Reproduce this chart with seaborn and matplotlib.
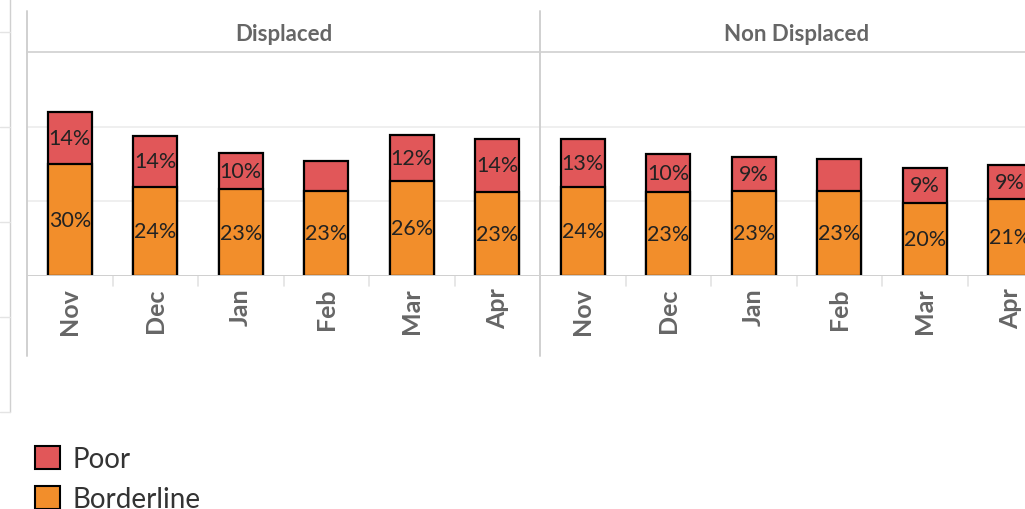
import matplotlib
matplotlib.use("Agg")
import matplotlib.pyplot as plt
from matplotlib.lines import Line2D
from matplotlib.patches import Patch
import numpy as np
import pandas as pd
import seaborn as sns

MONTHS = ["Nov", "Dec", "Jan", "Feb", "Mar", "Apr"]
GROUPS = ["Displaced", "Non Displaced"]
BORDERLINE_DISPLACED = [30.1, 23.9, 23.3, 22.8, 25.5, 22.6]
POOR_DISPLACED = [13.7, 13.6, 9.7, 8.0, 12.3, 14.0]
BORDERLINE_NON_DISPLACED = [23.9, 22.6, 22.8, 22.8, 19.6, 20.7]
POOR_NON_DISPLACED = [12.9, 10.2, 9.1, 8.6, 9.4, 9.1]

POOR_COLOR = "#E15759"
BORDERLINE_COLOR = "#F28E2B"
TEXT_GRAY = "#666666"
LINE_GRAY = "#d0d0d0"

df = pd.DataFrame({
    "group": np.repeat(GROUPS, len(MONTHS)),
    "month": MONTHS * len(GROUPS),
    "borderline": BORDERLINE_DISPLACED + BORDERLINE_NON_DISPLACED,
    "poor": POOR_DISPLACED + POOR_NON_DISPLACED,
})
df["total"] = df["borderline"] + df["poor"]

sns.set_theme(style="white")
plt.rcParams["font.family"] = ["Lato", "DejaVu Sans"]

W, H = 1025, 510
fig = plt.figure(figsize=(W / 100, H / 100), dpi=100)
panel_w = 513
top, base = 53, 277

for i, group in enumerate(GROUPS):
    left = 27 + i * panel_w
    ax = fig.add_axes([left / W, (H - base) / H, panel_w / W, (base - top) / H])
    sub = df[df["group"] == group]
    bar_kw = dict(order=MONTHS, saturation=1, width=0.515, edgecolor="black",
                  linewidth=1.6, errorbar=None, ax=ax)
    sns.barplot(data=sub, x="month", y="total", color=POOR_COLOR, **bar_kw)
    sns.barplot(data=sub, x="month", y="borderline", color=BORDERLINE_COLOR, **bar_kw)

    ax.set_ylim(0, 60)
    ax.set_xlim(-0.5, len(MONTHS) - 0.5)
    ax.set_axisbelow(True)
    ax.set_yticks([0, 20, 40])
    ax.set_yticklabels([])
    ax.tick_params(axis="y", length=0)
    ax.grid(True, axis="y", color="#ececec", linewidth=1.2)
    ax.axhline(0, color=LINE_GRAY, linewidth=1.4, zorder=3)
    ax.set_xlabel("")
    ax.set_ylabel("")
    for name, spine in ax.spines.items():
        spine.set_visible(name == "top")
    ax.spines["top"].set_color(LINE_GRAY)
    ax.spines["top"].set_linewidth(1.2)

    ax.set_xticks(range(len(MONTHS)))
    ax.set_xticklabels(MONTHS, rotation=90, fontsize=18, fontweight="bold", color=TEXT_GRAY)
    ax.tick_params(axis="x", length=0, pad=8)

    for x in np.arange(len(MONTHS) - 1) + 0.5:
        ax.plot([x, x], [0, -10 / (base - top)], transform=ax.get_xaxis_transform(),
                clip_on=False, color="#e3e3e3", linewidth=1.2)

    for j, (b, p) in enumerate(zip(sub["borderline"], sub["poor"])):
        ax.text(j, b / 2, f"{b:.0f}%", ha="center", va="center", fontsize=15.5, color="#222222")
        if p >= 9:
            ax.text(j, b + p / 2, f"{p:.0f}%", ha="center", va="center", fontsize=15.5, color="#222222")

    ax.text(0.5, 1 + 19 / (base - top), group, transform=ax.transAxes, ha="center", va="center",
            fontsize=16, fontweight="bold", color=TEXT_GRAY)

# panel frame lines
for x in (27, 540):
    fig.add_artist(Line2D([x / W, x / W], [1 - 12 / H, 1 - 357 / H], color=LINE_GRAY, linewidth=1.4))

# left dashboard stub
fig.add_artist(Line2D([10 / W, 10 / W], [1, 1 - 413 / H], color=LINE_GRAY, linewidth=1.0))
for y in (33, 128, 223, 318, 413):
    fig.add_artist(Line2D([0, 10 / W], [1 - y / H, 1 - y / H], color="#e4e4e4", linewidth=1.0))

handles = [
    Patch(facecolor=POOR_COLOR, edgecolor="black", linewidth=1.5, label="Poor"),
    Patch(facecolor=BORDERLINE_COLOR, edgecolor="black", linewidth=1.5, label="Borderline"),
]
fig.legend(handles=handles, loc="upper left", bbox_to_anchor=(35 / W, 1 - 447 / H),
           frameon=False, fontsize=20, labelcolor="#333333", handlelength=0.9,
           handleheight=0.9, handletextpad=0.45, labelspacing=0.5, borderpad=0,
           borderaxespad=0)

fig.savefig("out.png", dpi=100, facecolor="white")
